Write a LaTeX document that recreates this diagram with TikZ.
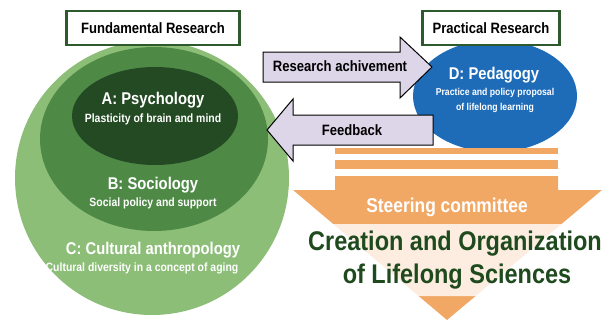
\documentclass[tikz,border=0pt]{standalone}
\usepackage{fontspec}
\setmainfont{Liberation Sans}
\newfontfamily\narrowsf[FakeStretch=0.87]{Liberation Sans}
\usetikzlibrary{shapes.geometric}

\definecolor{outergreen}{HTML}{8CBE78}
\definecolor{midgreen}{HTML}{4E8A46}
\definecolor{darkgreen}{HTML}{234A23}
\definecolor{boxgreen}{HTML}{2C5A2C}
\definecolor{pedblue}{HTML}{1E6BB8}
\definecolor{arrowlilac}{HTML}{DDD6E8}
\definecolor{steerorange}{HTML}{F2A865}
\definecolor{titlegreen}{HTML}{1E4A1E}

\tikzset{
  titlebox/.style={draw=boxgreen, line width=2.2pt, fill=white, minimum height=34pt,
    font=\narrowsf\bfseries\fontsize{15}{17}\selectfont},
  area/.style={inner sep=0pt},
  head/.style={text=white, font=\narrowsf\bfseries\fontsize{17}{19}\selectfont},
  sub/.style={text=white, font=\narrowsf\bfseries\fontsize{12}{14}\selectfont},
  pedsub/.style={text=white, font=\narrowsf\bfseries\fontsize{10}{12}\selectfont},
  blockarrow/.style={draw=black, line width=1pt, fill=arrowlilac, line join=miter},
  arrowtext/.style={font=\narrowsf\bfseries\fontsize{15}{17}\selectfont},
  bigtext/.style={text=titlegreen, font=\narrowsf\bfseries\fontsize{27}{32}\selectfont}
}

\begin{document}
\begin{tikzpicture}[x=1pt,y=-1pt]
    \useasboundingbox (0,0) rectangle (612,322);

    % fundamental research
    \node[circle, fill=outergreen, minimum size=274pt, area] (outer) at (152,178) {};
    \node[ellipse, fill=midgreen, minimum width=228pt, minimum height=184pt, area] (middle) at (154,139) {};
    \node[ellipse, fill=darkgreen, minimum width=166pt, minimum height=98pt, area] (inner) at (155,116) {};
    \node[titlebox, minimum width=173pt] (fundamental) at (153,28) {Fundamental Research};

    \node[head] (psy) at (153,100) {A: Psychology};
    \node[sub] (psysub) at (153,119) {Plasticity of brain and mind};
    \node[head] (soc) at (153,185) {B: Sociology};
    \node[sub] (socsub) at (153,203) {Social policy and support};
    \node[head] (cult) at (153,250) {C: Cultural anthropology};
    \node[sub] (cultsub) at (142,268) {Cultural diversity in a concept of aging};

    % practical research
    \node[ellipse, fill=pedblue, minimum width=164pt, minimum height=112pt, area] (pedagogy) at (495,96) {};
    \node[titlebox, minimum width=137pt] (practical) at (491,28) {Practical Research};
    \node[head] (ped) at (494,75) {D: Pedagogy};
    \node[pedsub] (pedsub1) at (495,93) {Practice and policy proposal};
    \node[pedsub] (pedsub2) at (495,108) {of lifelong learning};

    % arrows between both
    \draw[blockarrow] (263,52) -- (400,52) -- (400,37) -- (432,67) -- (400,98) -- (400,82) -- (263,82) -- cycle;
    \node[arrowtext] (achieve) at (340,66) {Research achivement};
    \draw[blockarrow] (267,130) -- (293,99) -- (293,115) -- (433,115) -- (433,145) -- (293,145) -- (293,161) -- cycle;
    \node[arrowtext] (feedback) at (352,130) {Feedback};

    % steering committee
    \fill[steerorange] (335,148) rectangle (558,154);
    \fill[steerorange] (335,160) rectangle (558,169);
    \fill[steerorange] (335,176) -- (558,176) -- (558,190) -- (602,190) -- (447,320) -- (293,190) -- (335,190) -- cycle;
    \node[text=white, font=\narrowsf\bfseries\fontsize{20}{24}\selectfont] (steering) at (447,207) {Steering committee};
    \fill[white, opacity=0.8, rounded corners=12pt] (304,224) rectangle (608,296);
    \node[bigtext] (creation) at (455,244) {Creation and Organization};
    \node[bigtext] (lifelong) at (457,277) {of Lifelong Sciences};
\end{tikzpicture}
\end{document}
